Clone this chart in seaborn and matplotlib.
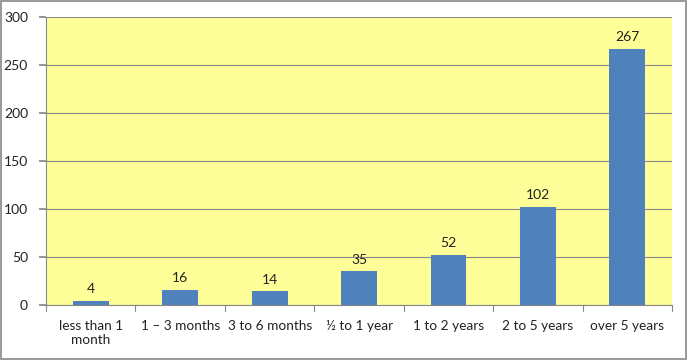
import matplotlib
matplotlib.use("Agg")
import matplotlib.pyplot as plt
import seaborn as sns
import pandas as pd
from matplotlib.patches import Rectangle

categories = ["less than 1\nmonth", "1 – 3 months", "3 to 6 months", "½ to 1 year",
              "1 to 2 years", "2 to 5 years", "over 5 years"]
values = [4, 16, 14, 35, 52, 102, 267]
yticks = [0, 50, 100, 150, 200, 250, 300]

sns.set_theme(style="white")
plt.rcParams['font.family'] = ['Lato', 'DejaVu Sans']

df = pd.DataFrame({"cat": categories, "val": values})

fig = plt.figure(figsize=(6.88, 3.6), dpi=100)
ax = fig.add_axes([0.0669, 0.153, 0.910, 0.800])
ax.set_facecolor("#FFFF99")
sns.barplot(data=df, x="cat", y="val", color="#4F81BD", saturation=1, width=0.4,
            linewidth=0, ax=ax)

ax.set_ylim(0, 300)
ax.set_xlim(-0.5, len(categories) - 0.5)
ax.set_yticks(yticks)
ax.set_yticklabels([str(t) for t in yticks], fontsize=10, color="#222222")
ax.yaxis.grid(True, color="#888888", linewidth=0.8)
ax.set_axisbelow(True)
ax.set_xlabel("")
ax.set_ylabel("")
ax.tick_params(axis="x", labelsize=9.8, colors="#222222", length=0, pad=11)
ax.tick_params(axis="y", length=5, color="#888888", left=True, pad=8)

# category boundary tick marks
for b in [i - 0.5 for i in range(len(categories) + 1)]:
    ax.plot([b, b], [0, -6], color="#888888", linewidth=0.8, clip_on=False)

for s in ["top", "right"]:
    ax.spines[s].set_visible(False)
for s in ["left", "bottom"]:
    ax.spines[s].set_color("#888888")
    ax.spines[s].set_linewidth(0.8)

for i, v in enumerate(values):
    ax.text(i, v + 6, str(v), ha="center", va="bottom", fontsize=10, color="#222222")

fig.patches.append(Rectangle((0.002, 0.003), 0.995, 0.994, transform=fig.transFigure,
                             fill=False, edgecolor="#888888", linewidth=1.2))

fig.savefig("out.png", dpi=100)
